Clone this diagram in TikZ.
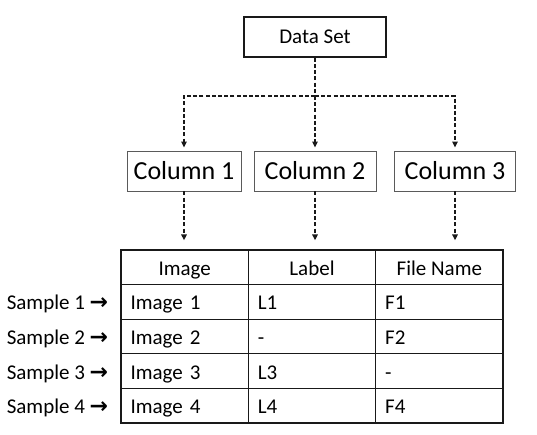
\documentclass[tikz,border=0pt]{standalone}
\usepackage{fontspec}
\setmainfont{Carlito}
\newfontfamily\flechafont{DejaVu Sans Bold}
\usetikzlibrary{arrows.meta,positioning}
\definecolor{tinta}{RGB}{25,25,25}
\definecolor{grisb}{RGB}{90,90,90}
\newcommand{\flecha}{{\flechafont\fontsize{22}{25}\selectfont\symbol{"2192}}}
\tikzset{
  raiz/.style={draw=tinta, line width=1.8pt, minimum width=142pt, minimum height=40pt, inner sep=0pt, font=\fontsize{21}{25}\selectfont},
  colu/.style={draw=grisb, line width=0.9pt, minimum height=40pt, inner sep=0pt, font=\fontsize{26}{31}\selectfont},
  cab/.style={draw=tinta, line width=1.3pt, minimum width=127.33pt, minimum height=34.6pt, inner sep=0pt, text height=16pt, text depth=0pt, font=\fontsize{21}{25}\selectfont},
  celda/.style={draw=tinta, line width=1.3pt, text width=108.33pt, inner xsep=9.5pt, inner ysep=0pt, text height=16pt, text depth=0pt, minimum height=34.6pt, align=left, font=\fontsize{21}{25}\selectfont},
  muestra/.style={inner sep=0pt, text height=16pt, text depth=0pt, font=\fontsize{21}{25}\selectfont},
  fl/.style={-{Triangle[length=6pt,width=5.5pt]}, line width=1.4pt, tinta, dash pattern=on 4pt off 2.2pt},
}

\begin{document}
\begin{tikzpicture}[x=1pt, y=-1pt]
  \useasboundingbox (0,0) rectangle (537,435);
  \node[raiz] (ds) at (315,37) {Data Set};
  \node[colu, minimum width=114pt] (c1) at (184,171) {Column 1};
  \node[colu, minimum width=122pt] (c2) at (315,171) {Column 2};
  \node[colu, minimum width=121pt] (c3) at (455,171) {Column 3};
  \coordinate (rama) at (315,96);
  % data set to columns
  \draw[fl, -] (ds.south) -- (rama);
  \draw[fl, shorten >=3pt] (rama) -| (c1.north);
  \draw[fl, shorten >=3pt] (rama) -- (c2.north);
  \draw[fl, shorten >=3pt] (rama) -| (c3.north);
  % table
  \foreach \txt [count=\i] in {Image,Label,File Name}
    \node[cab] (h\i) at ({121+127.33*(\i-0.5)},267.3) {\txt};
  \foreach \a/\b/\c [count=\r] in {Image 1/L1/F1, Image 2/-/F2, Image 3/L3/-, Image 4/L4/F4} {
    \node[celda] (img\r) at (184.67,{267.3+34.6*\r}) {\a};
    \node[celda] (lab\r) at (312,{267.3+34.6*\r}) {\b};
    \node[celda] (fil\r) at (439.33,{267.3+34.6*\r}) {\c};
    \node[muestra, left=12pt of img\r] (sm\r) {Sample \r\ \flecha};
  }
  % columns to table
  \draw[fl, shorten >=9pt] (c1.south) -- (c1.south |- h1.north);
  \draw[fl, shorten >=9pt] (c2.south) -- (c2.south |- h2.north);
  \draw[fl, shorten >=9pt] (c3.south) -- (c3.south |- h3.north);
\end{tikzpicture}
\end{document}
